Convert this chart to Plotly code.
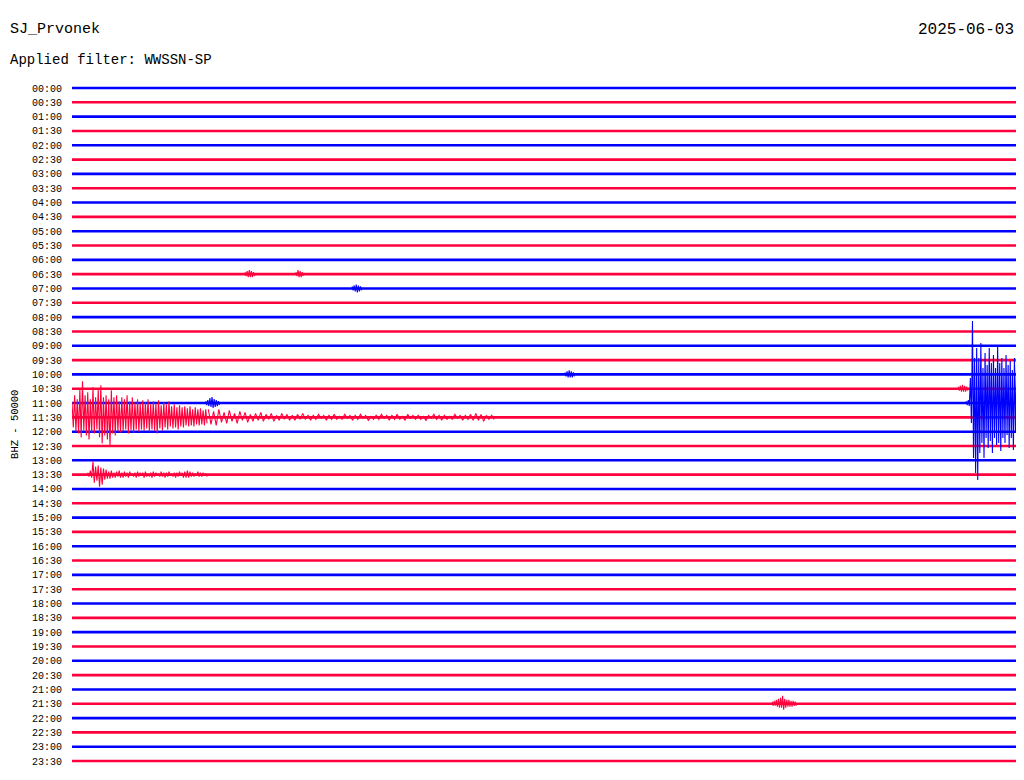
import plotly.graph_objects as go

# ---------------- data ----------------
STATION = "SJ_Prvonek"
DATE = "2025-06-03"
FILTER = "Applied filter: WWSSN-SP"
CHANNEL = "BHZ - 50000"

ROW_LABELS = ["00:00", "00:30", "01:00", "01:30", "02:00", "02:30", "03:00", "03:30",
              "04:00", "04:30", "05:00", "05:30", "06:00", "06:30", "07:00", "07:30",
              "08:00", "08:30", "09:00", "09:30", "10:00", "10:30", "11:00", "11:30",
              "12:00", "12:30", "13:00", "13:30", "14:00", "14:30", "15:00", "15:30",
              "16:00", "16:30", "17:00", "17:30", "18:00", "18:30", "19:00", "19:30",
              "20:00", "20:30", "21:00", "21:30", "22:00", "22:30", "23:00", "23:30"]
ROW_SECONDS = 1800          # each line spans 30 minutes
ROW_SPACING = 14.32         # amplitude scale units between successive lines

# Events: row index, start second within row, sample step (s), peak up / trough down amplitudes
# Teleseism starting at end of 11:00 line
EV_1100_ROW, EV_1100_START, EV_1100_STEP = 22, 1705, 4
EV_1100_UP = [2, 3, 25, 82, 45, 55, 45, 60, 35, 50, 38, 55, 40, 48, 35, 58, 40, 45, 35, 48, 38, 42, 33, 45, 38]
EV_1100_DN = [2, 3, 20, 55, 70, 77, 50, 40, 55, 35, 45, 38, 50, 35, 42, 40, 48, 35, 40, 32, 45, 35, 47, 30, 40]

# Its continuation on the 11:30 line (strong part)
EV_1130A_ROW, EV_1130A_START, EV_1130A_STEP = 23, 0, 5
EV_1130A_UP = [15, 22, 18, 28, 36, 22, 25, 18, 30, 20, 28, 32, 20, 22, 18, 27, 20, 22, 16, 20,
               18, 22, 16, 20, 15, 18, 14, 17, 15, 18, 13, 16, 14, 17, 12, 15, 13, 16, 11, 13,
               10, 12, 10, 11, 9, 11, 8, 10, 8, 9, 7, 8]
EV_1130A_DN = [10, 14, 16, 20, 13, 18, 22, 15, 16, 12, 20, 26, 18, 22, 28, 16, 18, 14, 15, 14,
               12, 16, 13, 15, 12, 14, 12, 13, 11, 14, 12, 13, 16, 11, 13, 10, 12, 9, 11, 10,
               12, 9, 10, 8, 9, 8, 9, 7, 8, 7, 8, 6]
# coda
EV_1130B_ROW, EV_1130B_START, EV_1130B_STEP = 23, 260, 10
EV_1130B_UP = [8, 6, 8, 5, 7, 4, 6, 5, 3, 4, 5, 3, 4, 2, 4, 3, 2, 3, 4, 2,
               2, 3, 2, 2, 3, 1, 3, 2, 2, 3, 2, 1, 2, 3, 2, 2, 3, 1, 3, 2,
               2, 1, 2, 3, 2, 2, 1, 3, 2, 2, 3, 4, 3, 2, 2]
EV_1130B_DN = [7, 8, 5, 6, 4, 6, 3, 5, 4, 3, 4, 2, 4, 3, 2, 3, 3, 2, 2, 3,
               2, 1, 3, 2, 2, 2, 1, 3, 2, 1, 3, 2, 2, 1, 3, 2, 2, 3, 1, 2,
               2, 3, 1, 2, 3, 2, 2, 1, 3, 2, 3, 3, 4, 2, 2]

# Local event on the 13:30 line
EV_1330_ROW, EV_1330_START, EV_1330_STEP = 27, 30, 5
EV_1330_UP = [2, 4, 13, 8, 9, 7, 6, 5, 3, 4, 2, 3, 4, 2, 3, 2, 3, 1, 2, 3,
              2, 2, 3, 1, 2, 3, 2, 1, 3, 2, 2, 3, 1, 2, 2, 3, 2, 3, 4, 3, 2, 1, 3, 2, 2, 1]
EV_1330_DN = [2, 3, 8, 6, 12, 10, 5, 4, 4, 3, 3, 2, 3, 3, 2, 3, 1, 2, 3, 2,
              1, 3, 2, 2, 3, 2, 1, 2, 2, 3, 2, 1, 2, 3, 2, 1, 3, 3, 3, 2, 2, 1, 2, 2, 1, 2]

# Small event on the 21:30 line
EV_2130_ROW, EV_2130_START, EV_2130_STEP = 43, 1335, 4
EV_2130_UP = [2, 3, 4, 5, 6, 8, 5, 4, 4, 3, 3, 2]
EV_2130_DN = [2, 2, 3, 4, 4, 6, 4, 3, 3, 3, 2, 2]

# Minor bursts
EV_1100S_ROW, EV_1100S_START, EV_1100S_STEP = 22, 255, 4
EV_1100S_UP = [2, 3, 5, 6, 4, 3, 2]
EV_1100S_DN = [2, 3, 4, 5, 4, 3, 2]
EV_1030_ROW, EV_1030_START, EV_1030_STEP = 21, 1690, 4
EV_1030_UP = [2, 3, 4, 3, 2]
EV_1030_DN = [2, 3, 3, 3, 2]
EV_0630A_ROW, EV_0630A_START, EV_0630A_STEP = 13, 330, 4
EV_0630A_UP = [2, 3, 4, 3, 2]
EV_0630A_DN = [2, 3, 3, 3, 2]
EV_0630B_ROW, EV_0630B_START, EV_0630B_STEP = 13, 427, 4
EV_0630B_UP = [2, 4, 3, 2]
EV_0630B_DN = [2, 3, 3, 2]
EV_0700_ROW, EV_0700_START, EV_0700_STEP = 14, 534, 4
EV_0700_UP = [2, 3, 4, 3, 2]
EV_0700_DN = [2, 3, 4, 3, 2]
EV_1000_ROW, EV_1000_START, EV_1000_STEP = 20, 940, 4
EV_1000_UP = [2, 3, 4, 3, 2]
EV_1000_DN = [2, 3, 3, 3, 2]

EVENTS = [
    (EV_1100_ROW, EV_1100_START, EV_1100_STEP, EV_1100_UP, EV_1100_DN),
    (EV_1130A_ROW, EV_1130A_START, EV_1130A_STEP, EV_1130A_UP, EV_1130A_DN),
    (EV_1130B_ROW, EV_1130B_START, EV_1130B_STEP, EV_1130B_UP, EV_1130B_DN),
    (EV_1330_ROW, EV_1330_START, EV_1330_STEP, EV_1330_UP, EV_1330_DN),
    (EV_2130_ROW, EV_2130_START, EV_2130_STEP, EV_2130_UP, EV_2130_DN),
    (EV_1100S_ROW, EV_1100S_START, EV_1100S_STEP, EV_1100S_UP, EV_1100S_DN),
    (EV_1030_ROW, EV_1030_START, EV_1030_STEP, EV_1030_UP, EV_1030_DN),
    (EV_0630A_ROW, EV_0630A_START, EV_0630A_STEP, EV_0630A_UP, EV_0630A_DN),
    (EV_0630B_ROW, EV_0630B_START, EV_0630B_STEP, EV_0630B_UP, EV_0630B_DN),
    (EV_0700_ROW, EV_0700_START, EV_0700_STEP, EV_0700_UP, EV_0700_DN),
    (EV_1000_ROW, EV_1000_START, EV_1000_STEP, EV_1000_UP, EV_1000_DN),
]

# ---------------- styling ----------------
BLUE = "rgb(0,0,255)"
RED = "rgb(255,0,60)"
FONT = "Liberation Mono"


def row_color(k):
    return BLUE if k % 2 == 0 else RED


def row_offset(k):
    return -k * ROW_SPACING


fig = go.Figure()

# baselines
for color_idx, color in enumerate([BLUE, RED]):
    xs, ys = [], []
    for k in range(len(ROW_LABELS)):
        if k % 2 != color_idx:
            continue
        xs += [0, ROW_SECONDS, None]
        ys += [row_offset(k), row_offset(k), None]
    fig.add_trace(go.Scatter(x=xs, y=ys, mode="lines",
                             line=dict(color=color, width=2.6),
                             hoverinfo="skip", showlegend=False))

# event wiggles (peak / trough pairs)
for row, start, step, up, dn in EVENTS:
    xs, ys = [], []
    y0 = row_offset(row)
    for i, (a, b) in enumerate(zip(up, dn)):
        t = start + i * step
        xs += [t, t + step / 2]
        ys += [y0 + a, y0 - b]
    fig.add_trace(go.Scatter(x=xs, y=ys, mode="lines",
                             line=dict(color=row_color(row), width=1.1),
                             hoverinfo="skip", showlegend=False, cliponaxis=True))

# the page body has an 8px margin, so the figure is sized to fill the window from there
top = 14
fig.update_layout(
    width=1016, height=772,
    margin=dict(l=64, r=8, t=66, b=6),
    paper_bgcolor="white", plot_bgcolor="white",
    xaxis=dict(range=[0, ROW_SECONDS], visible=False, fixedrange=True),
    yaxis=dict(range=[top - 700, top], showgrid=False, zeroline=False,
               tickmode="array",
               tickvals=[row_offset(k) for k in range(len(ROW_LABELS))],
               ticktext=ROW_LABELS, ticks="", ticklabelstandoff=9,
               tickfont=dict(family=FONT, size=10, color="black"),
               showline=False, fixedrange=True),
    font=dict(family=FONT, color="black"),
    annotations=[
        dict(text=STATION, xref="paper", yref="paper", x=-0.0678, y=1.063,
             xanchor="left", yanchor="middle", showarrow=False,
             font=dict(family=FONT, size=15, color="black")),
        dict(text=DATE, xref="paper", yref="paper", x=1.0, y=1.063,
             xanchor="right", yanchor="middle", showarrow=False,
             font=dict(family=FONT, size=16, color="black")),
        dict(text=FILTER, xref="paper", yref="paper", x=-0.0678, y=1.02,
             xanchor="left", yanchor="middle", showarrow=False,
             font=dict(family=FONT, size=14, color="black")),
        dict(text=CHANNEL, xref="paper", yref="paper", x=-0.0605, y=0.5,
             xanchor="center", yanchor="middle", showarrow=False, textangle=-90,
             font=dict(family=FONT, size=10.5, color="black")),
    ],
)

fig.write_html("out.html", config={"displayModeBar": False})
